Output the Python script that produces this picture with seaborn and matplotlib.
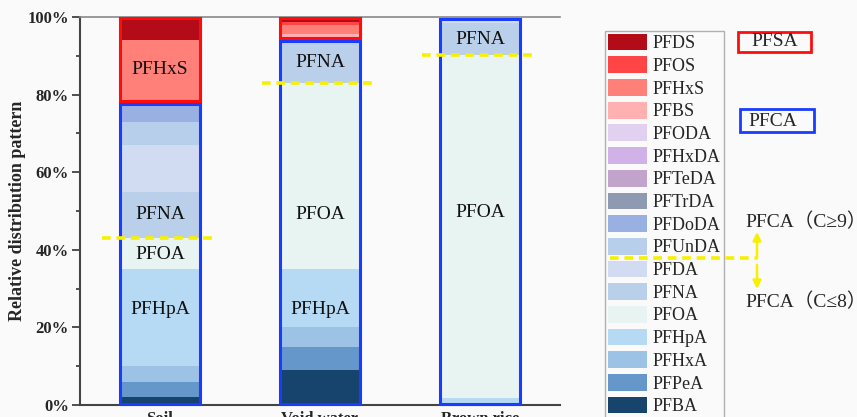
import matplotlib
matplotlib.use('Agg')
import matplotlib.pyplot as plt
from matplotlib.patches import Patch, Rectangle
from matplotlib.lines import Line2D
import numpy as np
import pandas as pd
import seaborn as sns

sites = ['Soil', 'Void water', 'Brown rice']

# stack order, bottom -> top
pfca = ['PFBA', 'PFPeA', 'PFHxA', 'PFHpA', 'PFOA', 'PFNA', 'PFDA',
        'PFUnDA', 'PFDoDA', 'PFTrDA', 'PFTeDA', 'PFHxDA', 'PFODA']
pfsa = ['PFBS', 'PFHxS', 'PFOS', 'PFDS']

# relative share in %, per site (Soil, Void water, Brown rice)
PFBA = [2.0, 9.0, 0.0]
PFPeA = [4.0, 6.0, 0.0]
PFHxA = [4.0, 5.0, 0.0]
PFHpA = [25.0, 15.0, 1.8]
PFOA = [8.0, 48.0, 88.5]
PFNA = [12.0, 10.8, 8.1]
PFDA = [12.0, 0.5, 1.1]
PFUnDA = [6.0, 0.0, 0.5]
PFDoDA = [4.0, 0.0, 0.0]
PFTrDA = [1.0, 0.0, 0.0]
PFTeDA = [0.0, 0.0, 0.0]
PFHxDA = [0.0, 0.0, 0.0]
PFODA = [0.0, 0.0, 0.0]
PFBS = [0.0, 1.2, 0.0]
PFHxS = [16.0, 2.5, 0.0]
PFOS = [0.0, 0.8, 0.0]
PFDS = [6.0, 1.2, 0.0]

values = {'PFBA': PFBA, 'PFPeA': PFPeA, 'PFHxA': PFHxA, 'PFHpA': PFHpA,
          'PFOA': PFOA, 'PFNA': PFNA, 'PFDA': PFDA, 'PFUnDA': PFUnDA,
          'PFDoDA': PFDoDA, 'PFTrDA': PFTrDA, 'PFTeDA': PFTeDA,
          'PFHxDA': PFHxDA, 'PFODA': PFODA, 'PFBS': PFBS, 'PFHxS': PFHxS,
          'PFOS': PFOS, 'PFDS': PFDS}

colors = {'PFDS': '#b30b17', 'PFOS': '#ff4545', 'PFHxS': '#ff7f79',
          'PFBS': '#ffb1b1', 'PFODA': '#e2d0f0', 'PFHxDA': '#d0b1e8',
          'PFTeDA': '#c1a3cb', 'PFTrDA': '#8e9ab1', 'PFDoDA': '#98b0e2',
          'PFUnDA': '#b8cfeb', 'PFDA': '#d1dcf3', 'PFNA': '#bad0ea',
          'PFOA': '#e8f4f2', 'PFHpA': '#b6daf4', 'PFHxA': '#9cc2e5',
          'PFPeA': '#6597ca', 'PFBA': '#17446c'}

# labels written inside bars: (site index, compound, y in %)
bar_labels = [(0, 'PFHxS', 86.5), (0, 'PFNA', 49), (0, 'PFOA', 38.7),
              (0, 'PFHpA', 24.5), (1, 'PFNA', 88.3), (1, 'PFOA', 49),
              (1, 'PFHpA', 24.5), (2, 'PFOA', 49.5), (2, 'PFNA', 94.3)]

sns.set_style('ticks')
plt.rcParams['font.family'] = ['Liberation Serif', 'Noto Sans CJK SC']
bg = '#fafafa'
yellow = '#f7f000'

W, H = 857, 417
fig = plt.figure(figsize=(W / 100, H / 100), dpi=100, facecolor=bg)
ax = fig.add_axes([80 / W, 1 - 405 / H, 480 / W, 388 / H], facecolor=bg)

bottom = np.zeros(len(sites))
for name in pfca + pfsa:
    v = np.array(values[name])
    sns.barplot(x=sites, y=v, bottom=bottom, color=colors[name], width=0.5,
                saturation=1, linewidth=0, ax=ax)
    bottom += v

pfca_tot = np.sum([values[n] for n in pfca], axis=0)
c8_tot = np.sum([values[n] for n in pfca[:5]], axis=0)

for i in range(len(sites)):
    ax.add_patch(Rectangle((i - 0.25, 0.2), 0.5, pfca_tot[i] - 0.6,
                           fill=False, ec='#1a3cff', lw=2.2, clip_on=False, zorder=5))
    if pfca_tot[i] < 99.9:
        ax.add_patch(Rectangle((i - 0.25, pfca_tot[i] + 0.35), 0.5,
                               100 - pfca_tot[i] - 0.55, fill=False,
                               ec='#ff0d0d', lw=2.2, clip_on=False, zorder=5))
    ax.plot([i - 0.36, i + 0.34], [c8_tot[i]] * 2, color=yellow, lw=2.6,
            ls=(0, (2.4, 1.6)), zorder=6, clip_on=False)

for i, name, y in bar_labels:
    ax.text(i, y, name, ha='center', va='center', fontsize=14, color='#111111',
            zorder=7)

ax.set_xlim(-0.5, 2.5)
ax.set_ylim(0, 100)
ax.set_yticks(np.arange(0, 101, 20))
ax.set_yticklabels([f'{v}%' for v in range(0, 101, 20)],
                   fontweight='bold', fontsize=12)
ax.set_yticks(np.arange(10, 100, 20), minor=True)
ax.tick_params(axis='y', which='major', length=6, width=1.2, pad=2, color='#333333')
ax.tick_params(axis='y', which='minor', length=3, width=1.2, color='#333333')
ax.tick_params(axis='x', length=0, pad=4)
for lab in ax.get_xticklabels():
    lab.set_fontweight('bold')
    lab.set_fontsize(12)
ax.set_xlabel('')
ax.set_ylabel('Relative distribution pattern', fontweight='bold', fontsize=13,
              labelpad=1)
for s in ['left', 'bottom']:
    ax.spines[s].set_color('#444444')
    ax.spines[s].set_linewidth(1.5)
ax.spines['top'].set_color('#888888')
ax.spines['top'].set_linewidth(1.2)
ax.spines['right'].set_visible(False)

# legend, top compound first
order = (pfca + pfsa)[::-1]
handles = [Patch(facecolor=colors[n], edgecolor='none', label=n) for n in order]
leg = fig.legend(handles=handles, loc='upper left',
                 bbox_to_anchor=(605 / W, 1 - 31 / H), frameon=True,
                 fancybox=False, edgecolor='#b0b0b0', facecolor=bg, framealpha=1,
                 borderpad=0.15, borderaxespad=0, handlelength=2.2,
                 handleheight=1.05, handletextpad=0.3, labelspacing=0.23,
                 prop={'family': 'Liberation Serif', 'size': 13})
leg.get_frame().set_linewidth(1)


def fx(px):
    return px / W


def fy(py):
    return 1 - py / H


# group boxes
fig.add_artist(Rectangle((fx(738), fy(52)), 73 / W, 20 / H, fill=False,
                         ec='#ff0d0d', lw=2, transform=fig.transFigure))
fig.text(fx(774.5), fy(42), 'PFSA', ha='center', va='center', fontsize=14)
fig.add_artist(Rectangle((fx(740), fy(132)), 74 / W, 23 / H, fill=False,
                         ec='#1a3cff', lw=2, transform=fig.transFigure))
fig.text(fx(773), fy(121), 'PFCA', ha='center', va='center', fontsize=14)

# carbon-chain split marker, drawn over the legend
fig.add_artist(Line2D([fx(610), fx(757)], [fy(258), fy(258)], color=yellow,
                      lw=2.6, ls=(0, (2.4, 1.6)), transform=fig.transFigure,
                      zorder=20))
for y0, y1 in [(258, 232), (265, 289)]:
    arr = ax.annotate('', xy=(fx(757), fy(y1)), xytext=(fx(757), fy(y0)),
                      xycoords='figure fraction',
                      arrowprops=dict(arrowstyle='-|>', color=yellow, lw=1.8,
                                      mutation_scale=12, shrinkA=0, shrinkB=0))
    arr.set_zorder(20)
fig.text(fx(745), fy(222), 'PFCA（C≥9）', ha='left', va='center', fontsize=14)
fig.text(fx(745), fy(302), 'PFCA（C≤8）', ha='left', va='center', fontsize=14)

plt.savefig('out.png', dpi=100, facecolor=bg)
